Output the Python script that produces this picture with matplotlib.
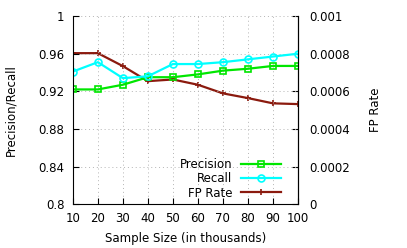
import matplotlib
matplotlib.use("Agg")
import matplotlib.pyplot as plt

sizes = [10, 20, 30, 40, 50, 60, 70, 80, 90, 100]
precision = [0.922, 0.922, 0.927, 0.935, 0.935, 0.938, 0.942, 0.944, 0.947, 0.947]
recall = [0.941, 0.951, 0.934, 0.936, 0.949, 0.949, 0.951, 0.954, 0.957, 0.960]
fp_rate = [0.000803, 0.000803, 0.000734, 0.000654, 0.000663, 0.000635, 0.000589, 0.000564, 0.000536, 0.000532]

left_ticks = [0.8, 0.84, 0.88, 0.92, 0.96, 1.0]
left_labels = ["0.8", "0.84", "0.88", "0.92", "0.96", "1"]
right_ticks = [0, 0.0002, 0.0004, 0.0006, 0.0008, 0.001]
right_labels = ["0", "0.0002", "0.0004", "0.0006", "0.0008", "0.001"]

plt.rcParams['font.family'] = ['DejaVu Sans']
fs = 8.5
fig = plt.figure(figsize=(4.07, 2.48), dpi=100)
ax = fig.add_axes([0.179, 0.177, 0.553, 0.758])
ax2 = ax.twinx()

green = "#00e600"
cyan = "#00ffff"
red = "#8b1a0e"

l1, = ax.plot(sizes, precision, color=green, lw=1.6, marker='s', ms=5, mfc='none', mec=green, mew=1.2, label="Precision")
l2, = ax.plot(sizes, recall, color=cyan, lw=1.6, marker='o', ms=5, mfc='none', mec=cyan, mew=1.2, label="Recall")
l3, = ax2.plot(sizes, fp_rate, color=red, lw=1.6, marker='+', ms=5, mew=1.2, label="FP Rate")

ax.set_xlim(10, 100)
ax.set_ylim(0.8, 1.0)
ax2.set_ylim(0, 0.001)
ax.set_xticks(sizes)
ax.set_xticklabels([str(s) for s in sizes], fontsize=fs)
ax.set_yticks(left_ticks)
ax.set_yticklabels(left_labels, fontsize=fs)
ax2.set_yticks(right_ticks)
ax2.set_yticklabels(right_labels, fontsize=fs)

ax.grid(True, color="#b4b4b4", linestyle=(0, (1, 3)), lw=0.7)
ax.tick_params(direction='in', length=4, width=0.8, pad=6, top=False)
ax2.tick_params(direction='in', length=4, width=0.8, pad=8)

for a in (ax, ax2):
    a.spines['top'].set_visible(False)
ax2.spines['left'].set_visible(False)
ax2.spines['bottom'].set_visible(False)

ax.set_xlabel("Sample Size (in thousands)", fontsize=fs, labelpad=5)
ax.set_ylabel("Precision/Recall", fontsize=fs, labelpad=15)
ax2.set_ylabel("FP Rate", fontsize=fs, labelpad=14)

leg = ax.legend(handles=[l1, l2, l3], loc='lower right', bbox_to_anchor=(0.96, -0.02),
                markerfirst=False, frameon=False, fontsize=fs, handlelength=3.4,
                labelspacing=0.12, handletextpad=0.7, borderaxespad=0.3)
for t in leg.get_texts():
    t.set_ha('right')
ax.set_zorder(ax2.get_zorder() + 1)
ax.patch.set_visible(False)

fig.savefig("out.png", dpi=100)
